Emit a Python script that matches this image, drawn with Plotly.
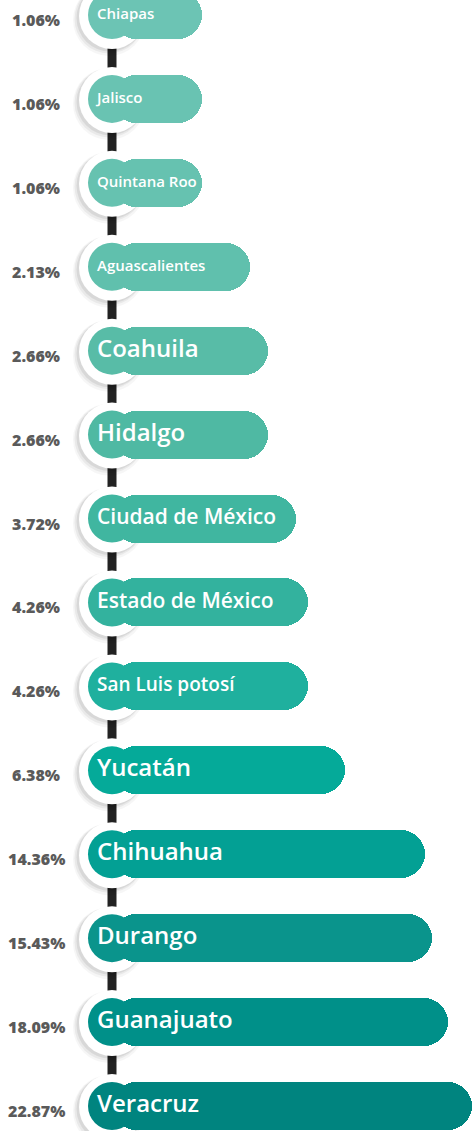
import math
import plotly.graph_objects as go

# ---------------- data ----------------
states = ["Chiapas", "Jalisco", "Quintana Roo", "Aguascalientes", "Coahuila", "Hidalgo",
          "Ciudad de México", "Estado de México", "San Luis potosí", "Yucatán",
          "Chihuahua", "Durango", "Guanajuato", "Veracruz"]
values = [1.06, 1.06, 1.06, 2.13, 2.66, 2.66, 3.72, 4.26, 4.26, 6.38, 14.36, 15.43, 18.09, 22.87]
pct_labels = ["1.06%", "1.06%", "1.06%", "2.13%", "2.66%", "2.66%", "3.72%", "4.26%",
              "4.26%", "6.38%", "14.36%", "15.43%", "18.09%", "22.87%"]

# ---------------- style ----------------
colors = ["#6cc4b4", "#69c3b2", "#66c2b0", "#60c0ad", "#58bca7", "#4fb9a3",
          "#40b6a0", "#33b29e", "#1fb09e", "#05aa99", "#03a094", "#0a948c",
          "#009089", "#00847f"]
label_sizes = [15, 15, 15, 15, 24, 24, 21, 21, 19, 24, 24, 24, 24, 24]

W, H = 472, 1131
BASE = 0.8              # log-axis origin of the bars
PX_PER_DEC = 245.0      # pixels per decade
BAR_START_PX = 112.0
log_left = math.log10(BASE) - BAR_START_PX / PX_PER_DEC
log_right = log_left + W / PX_PER_DEC

n = len(states)
top_px, bot_px = 15.0, 1106.0
step = (bot_px - top_px) / (n - 1)
y_top = -top_px / step
y_bot = (n - 1) + (H - bot_px) / step
bar_w = 48.0 / step

circle_x = BAR_START_PX / W
text_x = 10 ** (log_left + 97.0 / PX_PER_DEC)

fig = go.Figure()
fig.add_trace(go.Bar(
    y=states, x=values, base=BASE, orientation="h",
    width=bar_w,
    marker=dict(color=colors, cornerradius=24, line=dict(width=0)),
    hoverinfo="skip",
))
fig.add_trace(go.Scatter(
    y=states, x=[text_x] * n, mode="text", text=states,
    textposition="middle right",
    textfont=dict(family="Open Sans", size=label_sizes, color="white", weight=600),
    hoverinfo="skip", cliponaxis=False,
))

shapes = []
# connectors
for i in range(n - 1):
    shapes.append(dict(type="line", xref="paper", yref="y", x0=circle_x, x1=circle_x,
                       y0=i, y1=i + 1, line=dict(color="#222222", width=9), layer="below"))
# shadows + white discs + left caps
for i in range(n):
    for r, op, dx, dy in [(36, 0.035, -3, -5), (34.5, 0.05, -3, -4), (33.5, 0.07, -2, -3)]:
        shapes.append(dict(type="circle", xref="paper", yref="y", xsizemode="pixel", ysizemode="pixel",
                           xanchor=circle_x, yanchor=i, x0=-r + dx, x1=r + dx, y0=-r + dy, y1=r + dy,
                           fillcolor=f"rgba(0,0,0,{op})", line=dict(width=0), layer="below"))
    shapes.append(dict(type="circle", xref="paper", yref="y", xsizemode="pixel", ysizemode="pixel",
                       xanchor=circle_x, yanchor=i, x0=-33, x1=33, y0=-34, y1=32,
                       fillcolor="white", line=dict(width=0), layer="below"))
    shapes.append(dict(type="circle", xref="paper", yref="y", xsizemode="pixel", ysizemode="pixel",
                       xanchor=circle_x, yanchor=i, x0=-24, x1=24, y0=-24, y1=24,
                       fillcolor=colors[i], line=dict(width=0), layer="below"))

annotations = []
for i in range(n):
    annotations.append(dict(xref="paper", yref="y", x=36.0 / W, y=i, yshift=-5,
                            text=pct_labels[i], showarrow=False, xanchor="center",
                            font=dict(family="Open Sans", size=16, color="#5a5a5a", weight=800)))

fig.update_layout(
    width=W, height=H,
    margin=dict(l=0, r=0, t=0, b=0),
    paper_bgcolor="white", plot_bgcolor="white",
    showlegend=False,
    shapes=shapes, annotations=annotations,
    xaxis=dict(type="log", range=[log_left, log_right], visible=False, fixedrange=True),
    yaxis=dict(type="category", categoryorder="array", categoryarray=states,
               range=[y_bot, y_top], visible=False, fixedrange=True),
    bargap=0,
)

fig.write_html("out.html", config={"displayModeBar": False},
               post_script="document.body.style.margin='0';document.body.style.overflow='hidden';")
